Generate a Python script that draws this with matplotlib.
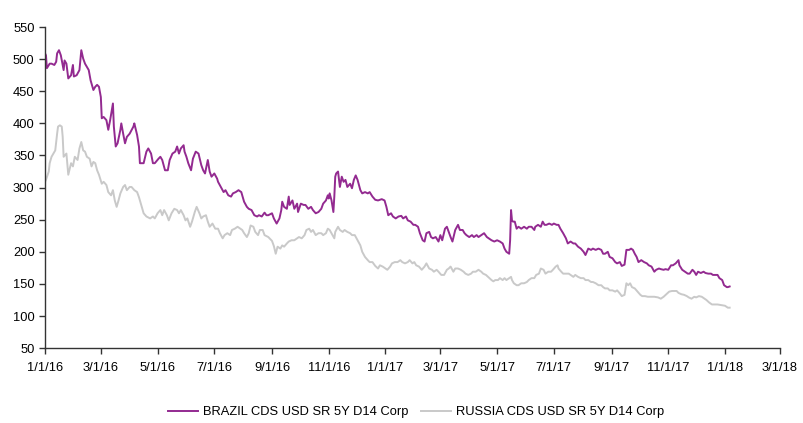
import matplotlib
matplotlib.use("Agg")
import matplotlib.pyplot as plt
import pandas as pd

plt.rcParams['font.family'] = ['Liberation Sans', 'DejaVu Sans']

# days since 1/1/16 and spread values (bp)
brazil_day = [0, 1, 2, 5, 7, 10, 12, 13, 15, 17, 20, 21, 23, 25, 28, 30, 31, 34, 37, 39,
              41, 43, 47, 49, 52, 54, 56, 58, 60, 61, 63, 66, 68, 70, 72, 73, 74, 76, 78, 81,
              82, 84, 86, 88, 91, 95, 96, 99, 101, 102, 106, 109, 111, 114, 116, 118, 122, 124, 126, 129,
              132, 134, 137, 140, 142, 144, 146, 149, 150, 152, 154, 157, 159, 162, 165, 168, 170, 172, 175, 177,
              179, 182, 185, 186, 189, 192, 194, 197, 200, 202, 205, 208, 211, 212, 214, 217, 219, 222, 225, 228,
              230, 233, 236, 238, 240, 244, 246, 249, 252, 254, 255, 257, 260, 262, 263, 266, 268, 271, 272, 275,
              278, 280, 283, 286, 288, 291, 294, 297, 299, 302, 304, 305, 306, 308, 310, 311, 312, 313, 315, 317,
              319, 321, 323, 325, 328, 330, 332, 334, 336, 339, 341, 344, 347, 349, 352, 355, 358, 362, 365, 367,
              369, 372, 374, 377, 380, 383, 385, 388, 390, 393, 396, 398, 401, 403, 406, 408, 410, 413, 415, 417,
              420, 423, 425, 427, 430, 432, 434, 436, 438, 441, 444, 446, 449, 451, 453, 456, 459, 461, 464, 466,
              469, 472, 475, 477, 480, 483, 486, 489, 492, 494, 496, 499, 500, 501, 502, 503, 505, 507, 509, 512,
              515, 518, 520, 523, 526, 527, 530, 533, 535, 537, 539, 542, 545, 547, 550, 552, 554, 557, 560, 562,
              565, 568, 570, 573, 576, 579, 581, 584, 587, 589, 592, 595, 598, 600, 602, 605, 607, 610, 613, 615,
              618, 620, 623, 625, 628, 630, 632, 634, 636, 638, 641, 644, 647, 649, 652, 655, 657, 660, 662, 665,
              667, 670, 673, 675, 678, 681, 682, 685, 688, 691, 693, 696, 698, 700, 702, 705, 708, 710, 713, 716,
              718, 721, 723, 725, 728, 730, 733, 734, 736]
brazil_cds = [509, 506, 486, 493, 493, 491, 496, 509, 514, 506, 483, 498, 493, 470, 475, 491, 473, 475, 483, 514,
              501, 493, 483, 467, 452, 457, 460, 457, 441, 408, 410, 405, 390, 405, 423, 431, 395, 364, 369, 390,
              400, 384, 369, 379, 384, 395, 400, 382, 364, 338, 338, 356, 361, 353, 338, 338, 345, 348, 343, 327,
              327, 343, 353, 356, 364, 353, 361, 366, 356, 348, 338, 327, 345, 356, 353, 335, 327, 322, 343, 325,
              317, 322, 314, 309, 301, 293, 296, 288, 286, 291, 293, 296, 293, 288, 278, 270, 267, 265, 257, 255,
              257, 255, 261, 257, 257, 260, 252, 244, 252, 265, 278, 270, 267, 286, 273, 280, 267, 275, 262, 275,
              273, 273, 267, 270, 265, 260, 262, 267, 275, 280, 288, 283, 291, 280, 262, 286, 317, 322, 325, 301,
              317, 309, 312, 301, 306, 299, 312, 319, 312, 296, 291, 293, 291, 293, 286, 281, 280, 282, 280, 270,
              257, 260, 255, 252, 255, 256, 252, 255, 249, 247, 242, 242, 239, 229, 218, 216, 229, 231, 223, 221,
              223, 216, 226, 218, 236, 239, 231, 223, 216, 234, 242, 234, 234, 229, 226, 223, 226, 223, 226, 223,
              226, 229, 223, 221, 218, 216, 218, 216, 213, 205, 200, 197, 218, 265, 249, 247, 247, 236, 239, 236,
              239, 236, 239, 239, 234, 239, 242, 239, 247, 242, 242, 244, 242, 244, 242, 242, 236, 229, 221, 213,
              216, 213, 213, 208, 205, 200, 195, 205, 203, 205, 203, 205, 203, 197, 197, 200, 192, 190, 184, 182,
              184, 178, 180, 203, 203, 205, 203, 197, 192, 184, 187, 184, 182, 179, 177, 169, 172, 174, 173, 172,
              173, 172, 179, 179, 182, 187, 179, 172, 169, 166, 166, 172, 169, 164, 169, 167, 169, 167, 166, 166,
              164, 164, 164, 159, 156, 148, 145, 145, 146]

russia_day = [0, 1, 4, 5, 7, 9, 11, 13, 14, 16, 18, 19, 20, 23, 25, 28, 30, 32, 35, 37,
              39, 41, 43, 45, 48, 50, 52, 54, 56, 58, 61, 63, 66, 68, 71, 73, 75, 77, 79, 81,
              84, 86, 88, 91, 93, 96, 99, 101, 104, 106, 109, 113, 116, 118, 121, 124, 126, 128, 131, 133,
              136, 139, 142, 144, 146, 149, 151, 153, 156, 158, 161, 163, 166, 168, 170, 173, 175, 177, 180, 183,
              186, 188, 191, 193, 196, 199, 201, 204, 207, 210, 212, 214, 217, 219, 221, 224, 226, 229, 231, 234,
              236, 240, 244, 246, 248, 250, 253, 255, 257, 260, 262, 265, 268, 271, 273, 276, 279, 281, 284, 286,
              288, 291, 294, 297, 299, 302, 304, 306, 309, 311, 312, 315, 317, 320, 322, 325, 328, 330, 333, 336,
              339, 341, 344, 347, 349, 352, 355, 358, 360, 363, 366, 368, 371, 373, 376, 379, 382, 384, 387, 390,
              392, 395, 397, 399, 402, 405, 408, 410, 413, 416, 418, 421, 423, 426, 429, 432, 434, 436, 439, 441,
              444, 447, 450, 452, 455, 458, 460, 463, 466, 469, 471, 474, 477, 480, 482, 484, 487, 489, 492, 494,
              496, 499, 501, 502, 504, 507, 509, 512, 515, 518, 520, 523, 526, 528, 531, 533, 536, 538, 541, 544,
              546, 549, 551, 552, 555, 557, 560, 563, 565, 568, 570, 573, 576, 579, 581, 584, 587, 589, 592, 595,
              598, 600, 602, 605, 607, 610, 613, 615, 618, 620, 623, 625, 627, 629, 631, 634, 637, 640, 642, 645,
              648, 652, 655, 659, 662, 665, 668, 671, 674, 676, 679, 681, 684, 687, 690, 692, 695, 698, 700, 703,
              706, 709, 711, 714, 717, 720, 723, 727, 731, 734, 736]
russia_cds = [309, 312, 325, 338, 348, 353, 358, 384, 395, 397, 395, 379, 348, 353, 320, 338, 333, 348, 343, 361,
              371, 358, 356, 348, 345, 333, 340, 338, 327, 320, 306, 309, 304, 293, 288, 296, 280, 270, 280, 291,
              301, 304, 296, 301, 301, 296, 293, 285, 270, 260, 255, 252, 255, 252, 260, 265, 257, 265, 257, 249,
              260, 267, 265, 260, 265, 257, 249, 252, 239, 247, 262, 270, 260, 252, 255, 257, 247, 239, 244, 236,
              236, 229, 221, 226, 229, 226, 234, 236, 239, 236, 234, 229, 223, 229, 241, 239, 231, 226, 234, 234,
              226, 223, 217, 209, 197, 208, 205, 210, 208, 213, 216, 218, 218, 221, 223, 221, 226, 234, 236, 231,
              234, 226, 229, 229, 226, 229, 236, 234, 226, 221, 231, 239, 234, 231, 234, 231, 229, 226, 226, 218,
              210, 200, 192, 187, 184, 184, 178, 174, 179, 177, 174, 172, 177, 182, 184, 184, 187, 184, 182, 184,
              187, 182, 184, 179, 177, 172, 177, 182, 174, 172, 169, 172, 169, 164, 164, 172, 174, 177, 169, 174,
              174, 172, 169, 166, 164, 166, 169, 169, 172, 169, 166, 164, 160, 156, 154, 156, 156, 159, 156, 159,
              156, 159, 161, 156, 151, 148, 148, 151, 151, 153, 156, 159, 159, 164, 166, 174, 172, 166, 169, 169,
              172, 177, 179, 174, 169, 166, 166, 166, 164, 161, 164, 161, 159, 159, 156, 156, 153, 153, 151, 148,
              148, 145, 143, 143, 140, 140, 138, 140, 135, 131, 133, 151, 148, 151, 145, 143, 138, 133, 131, 131,
              130, 130, 130, 129, 127, 130, 134, 138, 139, 139, 139, 136, 134, 133, 131, 129, 127, 130, 129, 131,
              130, 127, 125, 121, 118, 118, 118, 117, 116, 113, 113]

tick_labels = ['1/1/16', '3/1/16', '5/1/16', '7/1/16', '9/1/16', '11/1/16', '1/1/17',
               '3/1/17', '5/1/17', '7/1/17', '9/1/17', '11/1/17', '1/1/18', '3/1/18']
y_ticks = [50, 100, 150, 200, 250, 300, 350, 400, 450, 500, 550]

start = pd.Timestamp('2016-01-01')
brazil_dates = start + pd.to_timedelta(brazil_day, unit='D')
russia_dates = start + pd.to_timedelta(russia_day, unit='D')
tick_dates = pd.to_datetime(tick_labels, format='%m/%d/%y')

fig = plt.figure(figsize=(8.04, 4.23), dpi=100)
ax = fig.add_axes([0.056, 0.177, 0.914, 0.759])

ax.plot(brazil_dates, brazil_cds, color='#932a90', lw=1.4, label='BRAZIL CDS USD SR 5Y D14 Corp')
ax.plot(russia_dates, russia_cds, color='#c9c9c9', lw=1.4, label='RUSSIA CDS USD SR 5Y D14 Corp')

ax.set_xlim(tick_dates[0], tick_dates[-1])
ax.set_ylim(50, 550)
ax.set_xticks(tick_dates)
ax.set_xticklabels(tick_labels)
ax.set_yticks(y_ticks)

for s in ['top', 'right']:
    ax.spines[s].set_visible(False)
for s in ['left', 'bottom']:
    ax.spines[s].set_color('#333333')
    ax.spines[s].set_linewidth(1.0)
ax.tick_params(axis='both', direction='out', length=4, width=1, color='#333333',
               labelsize=9.3, labelcolor='black')
ax.tick_params(axis='x', pad=6)

ax.legend(loc='center', bbox_to_anchor=(0.505, -0.2), ncol=2, frameon=False,
          fontsize=9.3, handlelength=2.3, columnspacing=1.0, handletextpad=0.4)

fig.savefig('out.png', dpi=100)
